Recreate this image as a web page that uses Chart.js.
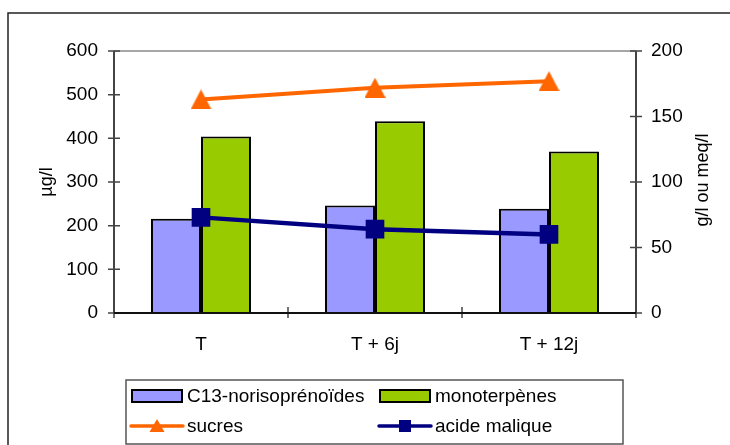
<!DOCTYPE html>
<html>
<head>
<meta charset="utf-8">
<script src="https://cdn.jsdelivr.net/npm/chart.js@4/dist/chart.umd.min.js"></script>
<style>
  html, body { margin: 0; padding: 0; background: #fff; }
  #wrap { width: 730px; height: 445px; position: relative; }
</style>
</head>
<body>
<div id="wrap"><canvas id="graphique" width="730" height="445"></canvas></div>
<script>
// categories et valeurs
const categories = ['T', 'T + 6j', 'T + 12j'];
const c13 = [216, 246, 239];
const monoterpenes = [404, 439, 370];
const sucres = [163, 172, 177];
const acideMalique = [73, 64, 60];
const ticksGauche = [0, 100, 200, 300, 400, 500, 600];
const ticksDroite = [0, 50, 100, 150, 200];

const FONTE = '"Liberation Sans", Arial, sans-serif';

// triangle centré sur sa boîte (comme Excel)
function triangle(w, h, couleur) {
    const c = document.createElement('canvas');
    c.width = w; c.height = h;
    const g = c.getContext('2d');
    g.fillStyle = couleur;
    g.beginPath();
    g.moveTo(w / 2, 0);
    g.lineTo(w, h);
    g.lineTo(0, h);
    g.closePath();
    g.fill();
    return c;
}
const triSucres = triangle(21, 20, '#FF6600');

const decor = {
    id: 'decor',
    beforeDraw(chart) {
        const ctx = chart.ctx;
        ctx.save();
        ctx.fillStyle = '#fff';
        ctx.fillRect(0, 0, chart.width, chart.height);
        ctx.strokeStyle = '#222';
        ctx.lineWidth = 1.5;
        ctx.beginPath();
        ctx.moveTo(8, 460); ctx.lineTo(8, 13); ctx.lineTo(740, 13);
        ctx.stroke();
        ctx.restore();
    },
    afterDatasetsDraw(chart) {
        const ctx = chart.ctx;
        const a = chart.chartArea;
        const x = chart.scales.x, y = chart.scales.y, y1 = chart.scales.y1;
        ctx.save();
        // bord haut gris
        ctx.strokeStyle = '#888';
        ctx.lineWidth = 1.5;
        ctx.beginPath();
        ctx.moveTo(a.left, a.top); ctx.lineTo(a.right, a.top);
        ctx.stroke();
        // axes
        ctx.strokeStyle = '#444';
        ctx.lineWidth = 2;
        ctx.beginPath();
        ctx.moveTo(a.left, a.top); ctx.lineTo(a.left, a.bottom);
        ctx.moveTo(a.right, a.top); ctx.lineTo(a.right, a.bottom);
        ctx.stroke();
        ctx.lineWidth = 1.5;
        ctx.beginPath();
        ticksGauche.forEach(v => {
            const p = y.getPixelForValue(v);
            ctx.moveTo(a.left - 6, p); ctx.lineTo(a.left + 6, p);
        });
        ticksDroite.forEach(v => {
            const p = y1.getPixelForValue(v);
            ctx.moveTo(a.right - 6, p); ctx.lineTo(a.right + 6, p);
        });
        for (let i = 0; i <= categories.length; i++) {
            const p = x.getPixelForValue(i - 0.5);
            ctx.moveTo(p, a.bottom - 6); ctx.lineTo(p, a.bottom + 5);
        }
        ctx.stroke();
        ctx.strokeStyle = '#111';
        ctx.lineWidth = 2;
        ctx.beginPath();
        ctx.moveTo(a.left, a.bottom); ctx.lineTo(a.right, a.bottom);
        ctx.stroke();

        // titres des axes
        ctx.fillStyle = '#000';
        ctx.font = '18px ' + FONTE;
        ctx.textAlign = 'center';
        ctx.textBaseline = 'middle';
        ctx.translate(47, 182);
        ctx.rotate(-Math.PI / 2);
        ctx.fillText('µg/l', 0, 0);
        ctx.setTransform(1, 0, 0, 1, 0, 0);
        ctx.translate(703, 180);
        ctx.rotate(-Math.PI / 2);
        ctx.fillText('g/l ou meq/l', 0, 0);
        ctx.setTransform(1, 0, 0, 1, 0, 0);
        ctx.restore();

        dessinerLegende(chart);
    }
};

function dessinerLegende(chart) {
    const ctx = chart.ctx;
    const ds = chart.data.datasets;
    ctx.save();
    ctx.strokeStyle = '#555';
    ctx.lineWidth = 1.5;
    ctx.strokeRect(126, 380, 497, 64);
    const cols = [131, 379];
    const rows = [396, 426];
    ctx.font = '19px ' + FONTE;
    ctx.textBaseline = 'middle';
    ctx.textAlign = 'left';
    ds.forEach((d, i) => {
        const x0 = cols[i % 2], yc = rows[Math.floor(i / 2)];
        if (d.type === 'bar') {
            ctx.fillStyle = d.backgroundColor;
            ctx.fillRect(x0 + 1, yc - 6, 50, 12);
            ctx.strokeStyle = '#000';
            ctx.lineWidth = 2;
            ctx.strokeRect(x0 + 1, yc - 6, 50, 12);
        } else {
            ctx.strokeStyle = d.borderColor;
            ctx.lineWidth = 3.5;
            ctx.lineCap = 'round';
            ctx.beginPath();
            ctx.moveTo(x0, yc); ctx.lineTo(x0 + 52, yc);
            ctx.stroke();
            ctx.fillStyle = d.borderColor;
            if (d.pointStyle === 'rect') {
                ctx.fillRect(x0 + 26 - 6, yc - 6, 12, 12);
            } else {
                ctx.beginPath();
                ctx.moveTo(x0 + 26, yc - 7);
                ctx.lineTo(x0 + 33.5, yc + 6);
                ctx.lineTo(x0 + 18.5, yc + 6);
                ctx.closePath();
                ctx.fill();
            }
        }
        ctx.fillStyle = '#000';
        ctx.fillText(d.label, x0 + 56, yc + 1);
    });
    ctx.restore();
}

const ctx = document.getElementById('graphique').getContext('2d');
new Chart(ctx, {
    data: {
        labels: categories,
        datasets: [{
            type: 'bar',
            label: 'C13-norisoprénoïdes',
            data: c13,
            backgroundColor: '#9999FF',
            borderColor: '#000',
            borderWidth: 2,
            yAxisID: 'y',
            order: 2
        }, {
            type: 'bar',
            label: 'monoterpènes',
            data: monoterpenes,
            backgroundColor: '#99CC00',
            borderColor: '#000',
            borderWidth: 2,
            yAxisID: 'y',
            order: 2
        }, {
            type: 'line',
            label: 'sucres',
            data: sucres,
            borderColor: '#FF6600',
            backgroundColor: '#FF6600',
            borderWidth: 4,
            pointStyle: triSucres,
            yAxisID: 'y1',
            order: 1
        }, {
            type: 'line',
            label: 'acide malique',
            data: acideMalique,
            borderColor: '#000080',
            backgroundColor: '#000080',
            borderWidth: 4.5,
            pointStyle: 'rect',
            pointRadius: 10,
            pointHoverRadius: 10,
            yAxisID: 'y1',
            order: 0
        }]
    },
    options: {
        responsive: false,
        animation: false,
        layout: { padding: { top: 51, left: 0, right: 0, bottom: 0 } },
        datasets: {
            bar: { categoryPercentage: 0.575, barPercentage: 1 }
        },
        plugins: {
            legend: { display: false },
            tooltip: { enabled: false }
        },
        scales: {
            x: {
                offset: true,
                grid: { display: false },
                border: { display: false },
                ticks: { color: '#000', font: { family: FONTE, size: 19 }, padding: 12 },
                afterFit(s) { s.height = 132; }
            },
            y: {
                position: 'left',
                min: 0, max: 600,
                grid: { display: false },
                border: { display: false },
                ticks: { stepSize: 100, color: '#000', font: { family: FONTE, size: 19 }, padding: 8 },
                afterFit(s) { s.width = 114; }
            },
            y1: {
                position: 'right',
                min: 0, max: 200,
                grid: { display: false },
                border: { display: false },
                ticks: { stepSize: 50, color: '#000', font: { family: FONTE, size: 19 }, padding: 7 },
                afterFit(s) { s.width = 94; }
            }
        }
    },
    plugins: [decor]
});
</script>
</body>
</html>
